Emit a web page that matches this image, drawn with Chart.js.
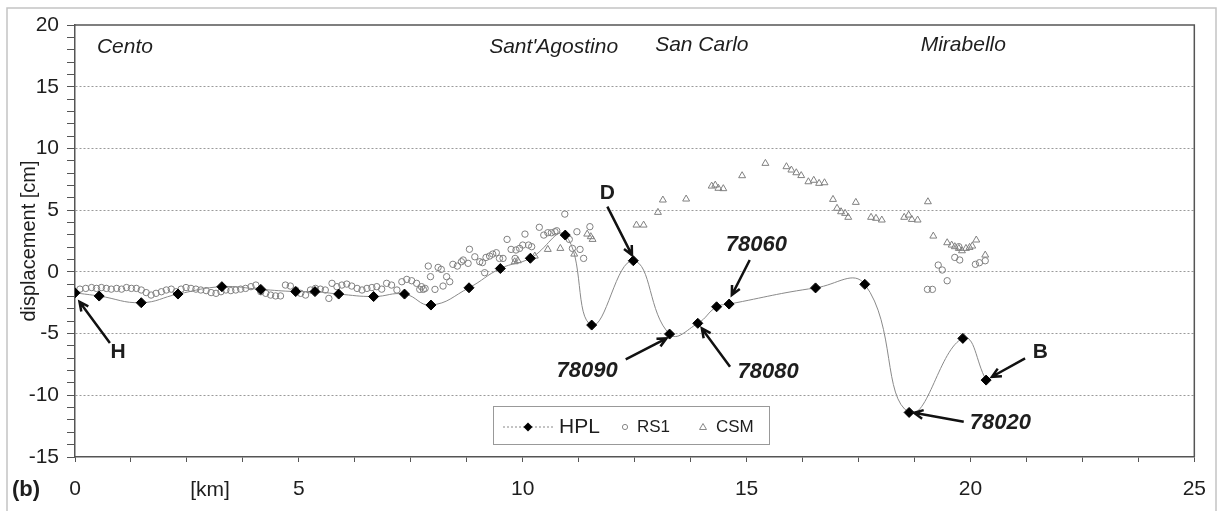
<!DOCTYPE html>
<html>
<head>
<meta charset="utf-8">
<script src="https://cdn.jsdelivr.net/npm/chart.js"></script>
<style>
  html, body { margin: 0; padding: 0; background: #fff; }
  #wrap { width: 1221px; height: 511px; position: relative; }
</style>
</head>
<body>
<div id="wrap"><canvas id="profileChart"></canvas></div>
<script>
// HPL levelling benchmarks: distance along the line [km] / displacement [cm]
const hplKm = [0, 0.54, 1.48, 2.30, 3.28, 4.15, 4.93, 5.36, 5.89, 6.67, 7.36, 7.95, 8.80, 9.50, 10.17, 10.95,
  11.54, 12.47, 13.28, 13.91, 14.33, 14.61, 16.54, 17.64, 18.63, 19.83, 20.35];
const hplCm = [-1.7, -1.96, -2.5, -1.8, -1.2, -1.42, -1.6, -1.6, -1.8, -2.0, -1.8, -2.69, -1.29, 0.27, 1.1, 2.98,
  -4.31, 0.9, -5.04, -4.17, -2.83, -2.61, -1.3, -1.01, -11.39, -5.39, -8.77];

// RS1 (circles)
const rs1Km = [0.11, 0.24, 0.37, 0.48, 0.59, 0.70, 0.81, 0.93, 1.04, 1.15, 1.26, 1.37, 1.48, 1.59, 1.70, 1.81,
  1.93, 2.04, 2.15, 2.26, 2.37, 2.48, 2.59, 2.70, 2.81, 2.93, 3.04, 3.15, 3.26, 3.37, 3.48, 3.59, 3.70, 3.81,
  3.93, 4.04, 4.15, 4.26, 4.37, 4.48, 4.59, 4.70, 4.81, 4.93, 5.04, 5.15, 5.26, 5.37, 5.48, 5.59, 5.67, 5.74,
  5.85, 5.96, 6.07, 6.18, 6.30, 6.41, 6.52, 6.63, 6.74, 6.85, 6.96, 7.07, 7.19, 7.30, 7.41, 7.52, 7.63, 7.70,
  7.74, 7.78, 7.82, 7.89, 7.94, 8.04, 8.11, 8.18, 8.22, 8.30, 8.37, 8.44, 8.54, 8.63, 8.67, 8.78, 8.81, 8.93,
  9.04, 9.10, 9.15, 9.18, 9.26, 9.33, 9.41, 9.48, 9.56, 9.65, 9.74, 9.83, 9.85, 9.93, 10.00, 10.05, 10.13,
  10.20, 10.37, 10.47, 10.56, 10.64, 10.72, 10.76, 10.94, 11.04, 11.11, 11.21, 11.28, 11.36, 11.50,
  19.04, 19.15, 19.28, 19.37, 19.48, 19.65, 19.74, 19.76, 20.11, 20.20, 20.33];
const rs1Cm = [-1.40, -1.34, -1.27, -1.34, -1.27, -1.34, -1.40, -1.34, -1.40, -1.27, -1.34, -1.34, -1.47, -1.68,
  -1.88, -1.74, -1.61, -1.47, -1.40, -1.61, -1.40, -1.27, -1.34, -1.40, -1.47, -1.52, -1.68, -1.74, -1.61,
  -1.47, -1.52, -1.47, -1.40, -1.34, -1.20, -1.07, -1.61, -1.74, -1.88, -1.95, -1.95, -1.07, -1.15, -1.47,
  -1.74, -1.88, -1.47, -1.34, -1.40, -1.47, -2.15, -0.93, -1.20, -1.07, -0.99, -1.15, -1.34, -1.47, -1.34,
  -1.27, -1.20, -1.40, -0.93, -1.07, -1.47, -0.80, -0.61, -0.72, -0.93, -1.42, -1.20, -1.42, -1.34, 0.47,
  -0.39, -1.42, 0.36, 0.20, -1.15, -0.39, -0.80, 0.61, 0.47, 0.82, 0.96, 0.69, 1.83, 1.22, 0.82, 0.75, -0.07,
  1.17, 1.28, 1.44, 1.55, 1.09, 1.09, 2.63, 1.82, 1.09, 1.77, 1.90, 2.17, 3.06, 2.17, 2.04, 3.61, 2.98, 3.17,
  3.17, 3.25, 3.33, 4.68, 2.63, 1.90, 3.25, 1.82, 1.09, 3.66,
  -1.42, -1.42, 0.55, 0.15, -0.72, 1.17, 2.04, 0.96, 0.61, 0.74, 0.90];

// CSM (triangles)
const csmKm = [9.82, 9.89, 10.18, 10.27, 10.56, 10.84, 11.15, 11.44, 11.52, 11.56, 12.54, 12.70, 13.02, 13.13,
  13.65, 14.22, 14.30, 14.37, 14.48, 14.90, 15.42, 15.89, 16.00, 16.11, 16.22, 16.38, 16.50, 16.62, 16.74,
  16.93, 17.02, 17.11, 17.20, 17.27, 17.44, 17.78, 17.89, 18.02, 18.52, 18.62, 18.69, 18.82, 19.05, 19.17,
  19.48, 19.58, 19.65, 19.74, 19.81, 19.90, 19.98, 20.04, 20.13, 20.33];
const csmCm = [0.82, 0.90, 1.17, 1.28, 1.82, 1.90, 1.44, 3.06, 2.85, 2.63, 3.79, 3.79, 4.82, 5.82,
  5.90, 6.95, 7.03, 6.77, 6.74, 7.79, 8.79, 8.52, 8.25, 8.03, 7.80, 7.30, 7.42, 7.17, 7.22,
  5.87, 5.15, 4.87, 4.74, 4.42, 5.63, 4.42, 4.34, 4.20, 4.42, 4.60, 4.25, 4.20, 5.68, 2.90,
  2.36, 2.17, 2.04, 1.90, 1.71, 1.90, 1.98, 2.09, 2.58, 1.36];

const xTickLabels = [0, 5, 10, 15, 20, 25];
const yTickLabels = [-15, -10, -5, 0, 5, 10, 15, 20];
const yGridLines = [-10, -5, 0, 5, 10, 15];
const placeNames = ['Cento', "Sant'Agostino", 'San Carlo', 'Mirabello'];

const FONT = "'Liberation Sans', Arial, sans-serif";
const INK = '#1e1e1e';

// text positions in data units (km, cm)
const placeLabels = [
  { text: placeNames[0], x: 0.49, y: 18.2, align: 'left' },
  { text: placeNames[1], x: 10.69, y: 18.2, align: 'center' },
  { text: placeNames[2], x: 14.0, y: 18.35, align: 'center' },
  { text: placeNames[3], x: 19.84, y: 18.4, align: 'center' }
];

const arrowNotes = [
  { text: 'H', tx: 0.96, ty: -6.47, from: [0.78, -5.77], to: [0.10, -2.42], italic: false },
  { text: 'D', tx: 11.89, ty: 6.36, from: [11.89, 5.28], to: [12.44, 1.36], italic: false },
  { text: '78060', tx: 15.22, ty: 2.17, from: [15.07, 0.96], to: [14.67, -1.88], italic: true },
  { text: '78090', tx: 11.44, ty: -8.0, from: [12.30, -7.09], to: [13.21, -5.39], italic: true },
  { text: '78080', tx: 15.48, ty: -8.1, from: [14.63, -7.69], to: [14.00, -4.58], italic: true },
  { text: '78020', tx: 20.67, ty: -12.28, from: [19.85, -12.15], to: [18.74, -11.42], italic: true },
  { text: 'B', tx: 21.56, ty: -6.47, from: [21.22, -7.01], to: [20.48, -8.50], italic: false }
];

function toPoints(xs, ys) {
  return xs.map((x, i) => ({ x, y: ys[i] }));
}

function drawArrow(ctx, x1, y1, x2, y2) {
  const ang = Math.atan2(y2 - y1, x2 - x1);
  const head = 10, spread = 0.45;
  ctx.beginPath();
  ctx.moveTo(x1, y1);
  ctx.lineTo(x2, y2);
  ctx.moveTo(x2 - head * Math.cos(ang - spread), y2 - head * Math.sin(ang - spread));
  ctx.lineTo(x2, y2);
  ctx.lineTo(x2 - head * Math.cos(ang + spread), y2 - head * Math.sin(ang + spread));
  ctx.stroke();
}

const notesPlugin = {
  id: 'notes',
  afterDraw(chart) {
    const { ctx, chartArea: a, scales: { x, y } } = chart;
    const px = v => x.getPixelForValue(v);
    const py = v => y.getPixelForValue(v);
    ctx.save();

    // outer picture frame
    ctx.strokeStyle = '#c4c4c4';
    ctx.lineWidth = 1.5;
    ctx.beginPath();
    ctx.moveTo(7, 511); ctx.lineTo(7, 8); ctx.lineTo(1216, 8); ctx.lineTo(1216, 511);
    ctx.stroke();

    // plot box, top and right
    ctx.strokeStyle = '#555';
    ctx.lineWidth = 1.5;
    ctx.beginPath();
    ctx.moveTo(a.left, a.top); ctx.lineTo(a.right, a.top); ctx.lineTo(a.right, a.bottom);
    ctx.stroke();

    // town names
    ctx.fillStyle = INK;
    ctx.textBaseline = 'middle';
    ctx.font = 'italic 21px ' + FONT;
    placeLabels.forEach(p => {
      ctx.textAlign = p.align;
      ctx.fillText(p.text, px(p.x), py(p.y));
    });

    // benchmark notes with arrows
    ctx.strokeStyle = '#111';
    ctx.lineWidth = 2.5;
    arrowNotes.forEach(n => {
      drawArrow(ctx, px(n.from[0]), py(n.from[1]), px(n.to[0]), py(n.to[1]));
      ctx.font = (n.italic ? 'italic bold 22px ' : 'bold 21px ') + FONT;
      ctx.textAlign = 'center';
      ctx.fillText(n.text, px(n.tx), py(n.ty));
    });

    // legend
    const lx = 493, ly = 406, lw = 276, lh = 38, cy = ly + lh / 2 + 2;
    ctx.fillStyle = '#fff';
    ctx.fillRect(lx, ly, lw, lh);
    ctx.strokeStyle = '#999';
    ctx.lineWidth = 1;
    ctx.strokeRect(lx + 0.5, ly + 0.5, lw, lh);

    ctx.strokeStyle = '#888';
    ctx.setLineDash([2, 2]);
    ctx.beginPath(); ctx.moveTo(503, cy); ctx.lineTo(555, cy); ctx.stroke();
    ctx.setLineDash([]);
    ctx.fillStyle = '#000';
    ctx.beginPath();
    ctx.moveTo(528, cy - 4.5); ctx.lineTo(532.5, cy); ctx.lineTo(528, cy + 4.5); ctx.lineTo(523.5, cy);
    ctx.closePath(); ctx.fill();

    ctx.strokeStyle = '#888';
    ctx.beginPath(); ctx.arc(625, cy, 2.6, 0, Math.PI * 2); ctx.stroke();
    ctx.beginPath();
    ctx.moveTo(703, cy - 3.5); ctx.lineTo(706.5, cy + 2.5); ctx.lineTo(699.5, cy + 2.5); ctx.closePath();
    ctx.stroke();

    ctx.fillStyle = INK;
    ctx.textAlign = 'left';
    ctx.font = '21px ' + FONT;
    ctx.fillText('HPL', 559, cy);
    ctx.font = '17px ' + FONT;
    ctx.fillText('RS1', 637, cy);
    ctx.fillText('CSM', 716, cy);

    // panel tag and unit
    ctx.font = 'bold 22px ' + FONT;
    ctx.fillText('(b)', 12, 490);
    ctx.font = '21px ' + FONT;
    ctx.textAlign = 'center';
    ctx.fillText('[km]', 210, 490);

    ctx.restore();
  }
};

new Chart(document.getElementById('profileChart'), {
  type: 'scatter',
  data: {
    datasets: [
      {
        label: 'HPL',
        data: toPoints(hplKm, hplCm),
        showLine: true,
        tension: 0.45,
        borderColor: '#8a8a8a',
        borderWidth: 1,
        pointStyle: 'rectRot',
        pointRadius: 5,
        pointBackgroundColor: '#000',
        pointBorderColor: '#000',
        pointBorderWidth: 1
      },
      {
        label: 'RS1',
        data: toPoints(rs1Km, rs1Cm),
        pointStyle: 'circle',
        pointRadius: 3.2,
        pointBackgroundColor: 'rgba(0,0,0,0)',
        pointBorderColor: '#808080',
        pointBorderWidth: 1
      },
      {
        label: 'CSM',
        data: toPoints(csmKm, csmCm),
        pointStyle: 'triangle',
        pointRadius: 4,
        pointBackgroundColor: 'rgba(0,0,0,0)',
        pointBorderColor: '#808080',
        pointBorderWidth: 1
      }
    ]
  },
  options: {
    responsive: true,
    maintainAspectRatio: false,
    animation: false,
    events: [],
    layout: { padding: { left: 0, top: 25, right: 21, bottom: 0 } },
    plugins: {
      legend: { display: false },
      tooltip: { enabled: false }
    },
    scales: {
      x: {
        type: 'linear',
        min: 0,
        max: 25,
        afterFit: s => { s.height = 54; },
        border: { display: true, color: '#555', width: 1.5 },
        grid: { drawOnChartArea: false, drawTicks: true, tickLength: 5, tickColor: '#555', tickWidth: 1 },
        ticks: {
          stepSize: 1.25,
          autoSkip: false,
          maxRotation: 0,
          padding: 15,
          color: INK,
          font: { family: FONT, size: 21 },
          callback: v => xTickLabels.includes(v) ? String(v) : ''
        }
      },
      y: {
        type: 'linear',
        min: -15,
        max: 20,
        afterFit: s => { s.width = 75; },
        border: { display: true, color: '#555', width: 1.5, dash: [2, 2] },
        grid: {
          drawOnChartArea: true,
          drawTicks: true,
          tickLength: 8,
          tickColor: '#555',
          tickWidth: 1,
          tickBorderDash: [],
          lineWidth: 1,
          color: c => (c.tick && yGridLines.includes(c.tick.value)) ? '#9a9a9a' : 'rgba(0,0,0,0)'
        },
        title: {
          display: true,
          text: 'displacement [cm]',
          color: INK,
          font: { family: FONT, size: 20 },
          padding: { top: 17, bottom: 0 }
        },
        ticks: {
          stepSize: 1,
          autoSkip: false,
          padding: 8,
          color: INK,
          font: { family: FONT, size: 21 },
          callback: v => yTickLabels.includes(v) ? String(v) : ''
        }
      }
    }
  },
  plugins: [notesPlugin]
});
</script>
</body>
</html>
